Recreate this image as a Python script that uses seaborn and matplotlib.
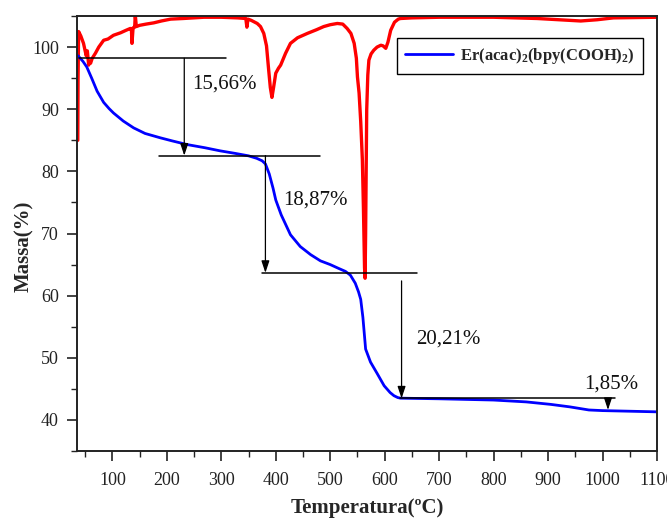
import numpy as np
import pandas as pd
import matplotlib
matplotlib.use("Agg")
import matplotlib.pyplot as plt
from matplotlib.ticker import MultipleLocator
import seaborn as sns

# TGA curve: temperature (°C) and remaining mass (%)
tga_temp = [37, 39, 46, 53, 62, 72, 84, 94, 102, 120, 139, 160, 188, 210, 238, 270, 298,
            325, 350, 365, 375, 381, 388, 395, 400, 410, 427, 445, 464, 482, 500, 515,
            528, 537, 546, 552, 556, 560, 565, 574, 586, 599, 610, 617, 624, 629, 700,
            800, 860, 905, 940, 975, 1000, 1050, 1100]
tga_mass = [98.6, 98.4, 97.7, 96.8, 95.0, 92.9, 91.1, 90.1, 89.4, 88.1, 87.0, 86.1, 85.4,
            84.9, 84.3, 83.8, 83.3, 82.9, 82.5, 82.1, 81.7, 81.2, 79.6, 77.3, 75.4,
            73.0, 69.8, 67.9, 66.6, 65.6, 65.0, 64.4, 63.9, 63.3, 62.0, 60.6, 59.4,
            56.5, 51.4, 49.3, 47.5, 45.5, 44.4, 43.9, 43.6, 43.5, 43.4, 43.2, 42.9,
            42.5, 42.1, 41.6, 41.5, 41.4, 41.3]

# DTG curve (drawn on the same scale, near the top of the frame)
dtg_temp = [36.5, 37, 38, 42, 47, 52, 54, 56.5, 58, 60, 63, 68.8, 75, 84, 92, 102, 115,
            125, 133, 135, 136, 138, 141, 142, 144, 150, 162, 176, 190, 207, 230, 268,
            300, 330, 345, 347, 349, 355, 366, 372, 378, 383, 387, 390, 393, 396,
            400, 405, 409, 418, 427, 440, 458, 475, 488, 500, 513, 523, 531, 538,
            544, 548, 550, 553, 556, 559, 561, 563, 564, 565, 567, 569, 571, 575,
            580, 586, 593, 597, 602, 606, 611, 618, 625, 629, 650, 700, 800, 880,
            920, 960, 990, 1020, 1100]
dtg_mass = [85.0, 95.0, 102.5, 101.8, 100.6, 98.6, 99.4, 97.1, 97.6, 97.4, 98.2, 99.0,
            100.0, 101.1, 101.3, 101.9, 102.3, 102.7, 103.0, 102.8, 100.6, 103.1,
            103.2, 105.2, 103.3, 103.5, 103.7, 103.9, 104.2, 104.5, 104.6, 104.8,
            104.8, 104.7, 104.6, 103.2, 104.5, 104.3, 103.8, 103.3, 102.2, 100.2,
            96.3, 93.5, 91.9, 93.5, 95.8, 96.6, 97.1, 99.0, 100.6, 101.5, 102.2,
            102.8, 103.3, 103.6, 103.8, 103.7, 103.0, 102.2, 100.6, 98.2, 95.2,
            92.6, 88.0, 81.9, 74.0, 64.5, 62.8, 70.0, 89.9, 95.5, 97.9, 98.9, 99.5,
            100.0, 100.3, 100.2, 99.8, 100.8, 102.7, 104.0, 104.5, 104.6, 104.7,
            104.8, 104.8, 104.6, 104.4, 104.2, 104.4, 104.7, 104.8]

# Mass-loss steps: starting level and the loss of each step (%)
start_level = 98.2
losses = [15.66, 18.87, 20.21, 1.85]
loss_labels = ["15,66%", "18,87%", "20,21%", "1,85%"]

series_name = "Er(acac)$_2$(bpy(COOH)$_2$)"
x_label = "Temperatura(ºC)"
y_label = "Massa(%)"

sns.set_theme(style="ticks")
plt.rcParams["font.family"] = ["Liberation Serif", "DejaVu Serif"]
plt.rcParams["mathtext.fontset"] = "custom"
plt.rcParams["mathtext.rm"] = "Liberation Serif:bold"
plt.rcParams["mathtext.default"] = "rm"

fig = plt.figure(figsize=(6.67, 5.2), dpi=100)
ax = fig.add_axes([0.1154, 0.1327, 0.8696, 0.8365])

tga = pd.DataFrame({"T": tga_temp, "m": tga_mass})
dtg = pd.DataFrame({"T": dtg_temp, "m": dtg_mass})

sns.lineplot(data=dtg, x="T", y="m", ax=ax, color="#ff0000", lw=2.4,
             sort=False, estimator=None, label="_dtg")
sns.lineplot(data=tga, x="T", y="m", ax=ax, color="#0000ff", lw=2.0,
             sort=False, estimator=None, label=series_name)

# Step construction: horizontal baselines and arrows whose length equals the loss
levels = [start_level]
for d in losses:
    levels.append(levels[-1] - d)

line_spans = [(39, 308), (186, 482), (375, 660), (629, 1022)]
arrow_x = [232, 381, 631, 1010]
arrow_gap = [0.0, 0.0, 1.3, 0.0]
label_pos = [(247, 94.1), (414, 75.4), (657, 53.0), (966, 45.8)]

for i, d in enumerate(losses):
    x0, x1 = line_spans[i]
    ax.plot([x0, x1], [levels[i], levels[i]], color="black", lw=1.1, zorder=3)
    ax.annotate("", xy=(arrow_x[i], levels[i + 1]),
                xytext=(arrow_x[i], levels[i] - arrow_gap[i]),
                arrowprops=dict(arrowstyle="-|>,head_length=0.6,head_width=0.2",
                                color="black", lw=0.9, shrinkA=0, shrinkB=0),
                zorder=3)
    ax.text(label_pos[i][0], label_pos[i][1], loss_labels[i], fontsize=15,
            ha="left", va="center", color="#111111")

ax.set_xlim(35, 1100)
ax.set_ylim(35, 105)
ax.xaxis.set_minor_locator(MultipleLocator(50))
ax.yaxis.set_minor_locator(MultipleLocator(5))
ax.set_xticks(range(100, 1101, 100))
ax.set_yticks(range(40, 101, 10))

for s in ax.spines.values():
    s.set_visible(True)
    s.set_linewidth(1.4)
    s.set_color("#222222")

ax.tick_params(which="major", direction="out", length=7, width=1.2,
               labelsize=13, pad=6, colors="#222222")
ax.tick_params(which="minor", direction="out", length=4, width=1.0,
               colors="#222222")
ax.tick_params(axis="x", which="major", pad=8)

ax.set_xlabel(x_label, fontsize=15, fontweight="bold")
ax.set_ylabel(y_label, fontsize=15, fontweight="bold")
ax.xaxis.set_label_coords(0.5, -0.131)
ax.yaxis.set_label_coords(-0.092, 0.471)
ax.xaxis.label.set_va("center")
ax.yaxis.label.set_va("center")

leg = ax.legend(loc="upper right", bbox_to_anchor=(0.976, 0.95), frameon=True,
                fancybox=False, edgecolor="black", framealpha=1,
                prop={"family": "Liberation Serif", "weight": "bold", "size": 12},
                handlelength=2.9, handletextpad=0.4, borderpad=0.5,
                borderaxespad=0)
leg.get_frame().set_linewidth(1.0)

fig.savefig("out.png", dpi=100)
